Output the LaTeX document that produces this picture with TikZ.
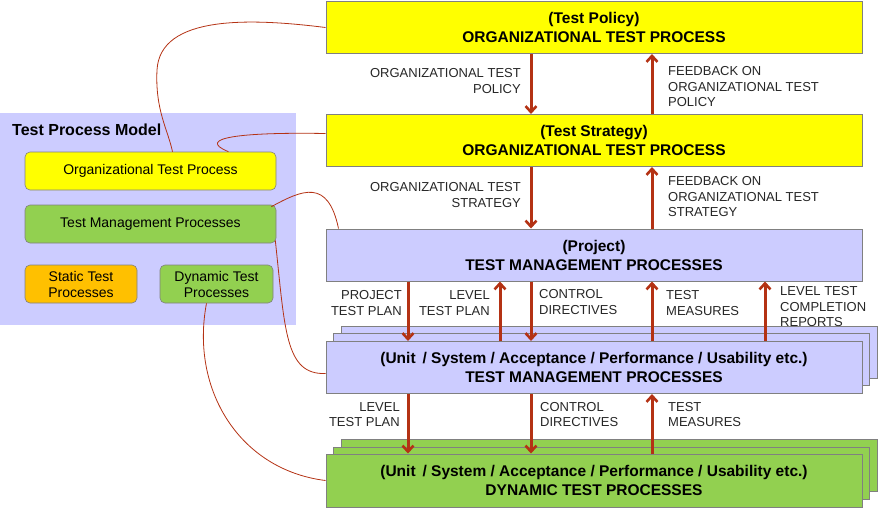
\documentclass[tikz,border=0pt]{standalone}
\usepackage{fontspec}
\setmainfont{Liberation Sans}
\usepackage{tikz}
\usetikzlibrary{arrows.meta}
\definecolor{PolicyYellow}{rgb}{1,1,0}
\definecolor{ModelLilac}{RGB}{204,204,255}
\definecolor{LeafGreen}{RGB}{146,208,80}
\definecolor{StaticOrange}{RGB}{255,192,0}
\definecolor{FlowRed}{RGB}{180,50,20}
\definecolor{EdgeGray}{RGB}{128,128,128}

\begin{document}
\begin{tikzpicture}[x=1pt, y=-1pt,
		proc/.style={draw=EdgeGray, line width=1pt, minimum width=536pt, minimum height=52pt, inner sep=0pt, align=center, font=\fontsize{15.5}{19}\selectfont\bfseries},
		item/.style={draw=EdgeGray, line width=0.6pt, rounded corners=5pt, minimum height=38pt, inner sep=0pt, align=center, font=\fontsize{14}{16}\selectfont},
		flow/.style={-{Straight Barb[length=6pt, width=11pt, line width=2.6pt]}, line width=3pt, FlowRed},
		tag/.style={font=\fontsize{13}{15.5}\selectfont, text=black!85, inner sep=0pt},
		link/.style={FlowRed, line width=0.8pt}]
		\useasboundingbox (0,0) rectangle (887,509);
		
		% left panel
		\node [fill=ModelLilac, minimum width=296pt, minimum height=212pt, inner sep=0pt, anchor=north west] (model) at (0,113) {};
		\node [anchor=west, inner sep=0pt, font=\fontsize{16}{19}\selectfont\bfseries] (modeltitle) at (12,130) {Test Process Model};
		\node [item, fill=PolicyYellow, minimum width=251pt] (orgitem) at (150.5,171) {Organizational Test Process};
		\node [item, fill=LeafGreen, minimum width=251pt] (tmitem) at (150.5,224) {Test Management Processes};
		\node [item, fill=StaticOrange, minimum width=112pt] (staticitem) at (81,284) {Static Test\\Processes};
		\node [item, fill=LeafGreen, minimum width=113pt] (dynitem) at (216.5,284) {Dynamic Test\\Processes};
		
		% process levels
		\node [proc, fill=PolicyYellow] (policy) at (594,27.5) {(Test Policy)\\ORGANIZATIONAL TEST PROCESS};
		\node [proc, fill=PolicyYellow] (strategy) at (594,140.5) {(Test Strategy)\\ORGANIZATIONAL TEST PROCESS};
		\node [proc, fill=ModelLilac] (project) at (594,255) {(Project)\\TEST MANAGEMENT PROCESSES};
		
		\node [proc, fill=ModelLilac] (unitback2) at (609,352) {};
		\node [proc, fill=ModelLilac] (unitback1) at (601.5,359.5) {};
		\node [proc, fill=ModelLilac] (unit) at (594,367.5) {(Unit\, / System / Acceptance / Performance / Usability etc.)\\TEST MANAGEMENT PROCESSES};
		
		\node [proc, fill=LeafGreen] (dynback2) at (609,465.5) {};
		\node [proc, fill=LeafGreen] (dynback1) at (601.5,473) {};
		\node [proc, fill=LeafGreen, minimum height=53pt] (dynamic) at (594,480.5) {(Unit\, / System / Acceptance / Performance / Usability etc.)\\DYNAMIC TEST PROCESSES};
		
		% flows between levels
		\draw [flow] ([xshift=-63pt]policy.south) -- ([xshift=-63pt]strategy.north);
		\draw [flow] ([xshift=58pt]strategy.north) -- ([xshift=58pt]policy.south);
		\node [tag, anchor=north east, align=right] (policytag) at (521,68.5) {ORGANIZATIONAL TEST\\POLICY};
		\node [tag, anchor=north west, align=left] (policyback) at (668,66.5) {FEEDBACK ON\\ORGANIZATIONAL TEST\\POLICY};
		
		\draw [flow] ([xshift=-63pt]strategy.south) -- ([xshift=-63pt]project.north);
		\draw [flow] ([xshift=58pt]project.north) -- ([xshift=58pt]strategy.south);
		\node [tag, anchor=north east, align=right] (strategytag) at (521,182.5) {ORGANIZATIONAL TEST\\STRATEGY};
		\node [tag, anchor=north west, align=left] (strategyback) at (668,176.5) {FEEDBACK ON\\ORGANIZATIONAL TEST\\STRATEGY};
		
		\draw [flow] ([xshift=-186pt]project.south) -- ([xshift=-186pt]unit.north);
		\draw [flow] ([xshift=-94pt]unit.north) -- ([xshift=-94pt]project.south);
		\draw [flow] ([xshift=-63pt]project.south) -- ([xshift=-63pt]unit.north);
		\draw [flow] ([xshift=58pt]unit.north) -- ([xshift=58pt]project.south);
		\draw [flow] ([xshift=171pt]unit.north) -- ([xshift=171pt]project.south);
		\node [tag, anchor=north east, align=right] (projplan) at (402,290.5) {PROJECT\\TEST PLAN};
		\node [tag, anchor=north east, align=right] (levelplan) at (490,290.5) {LEVEL\\TEST PLAN};
		\node [tag, anchor=north west, align=left] (control) at (539,289.5) {CONTROL\\DIRECTIVES};
		\node [tag, anchor=north west, align=left] (measures) at (666,290.5) {TEST\\MEASURES};
		\node [tag, anchor=north west, align=left] (reports) at (780,286.5) {LEVEL TEST\\COMPLETION\\REPORTS};
		
		\draw [flow] ([xshift=-186pt]unit.south) -- ([xshift=-186pt]dynamic.north);
		\draw [flow] ([xshift=-63pt]unit.south) -- ([xshift=-63pt]dynamic.north);
		\draw [flow] ([xshift=58pt]dynamic.north) -- ([xshift=58pt]unit.south);
		\node [tag, anchor=north east, align=right] (dynplan) at (400,402) {LEVEL\\TEST PLAN};
		\node [tag, anchor=north west, align=left] (dyncontrol) at (540,402) {CONTROL\\DIRECTIVES};
		\node [tag, anchor=north west, align=left] (dynmeasures) at (668,402) {TEST\\MEASURES};
		
		% links from the model
		\draw [link] (policy.west) .. controls (250,18) and (160,15) .. (157,70) .. controls (155,110) and (168,130) .. ([xshift=22pt]orgitem.north);
		\draw [link] ([yshift=7pt]strategy.west) .. controls (240,132) and (195,138) .. ([xshift=78pt]orgitem.north);
		\draw [link] ([xshift=-5pt,yshift=-2pt]tmitem.north east) .. controls (302,190) and (328,178) .. ([xshift=13pt]project.north west);
		\draw [link] ([xshift=-1pt,yshift=3pt]tmitem.south east) .. controls (285,330) and (285,375) .. ([yshift=-6pt]unit.west);
		\draw [link] ([xshift=-10pt]dynitem.south) .. controls (190,390) and (240,470) .. (dynamic.west);
	\end{tikzpicture}
\end{document}
